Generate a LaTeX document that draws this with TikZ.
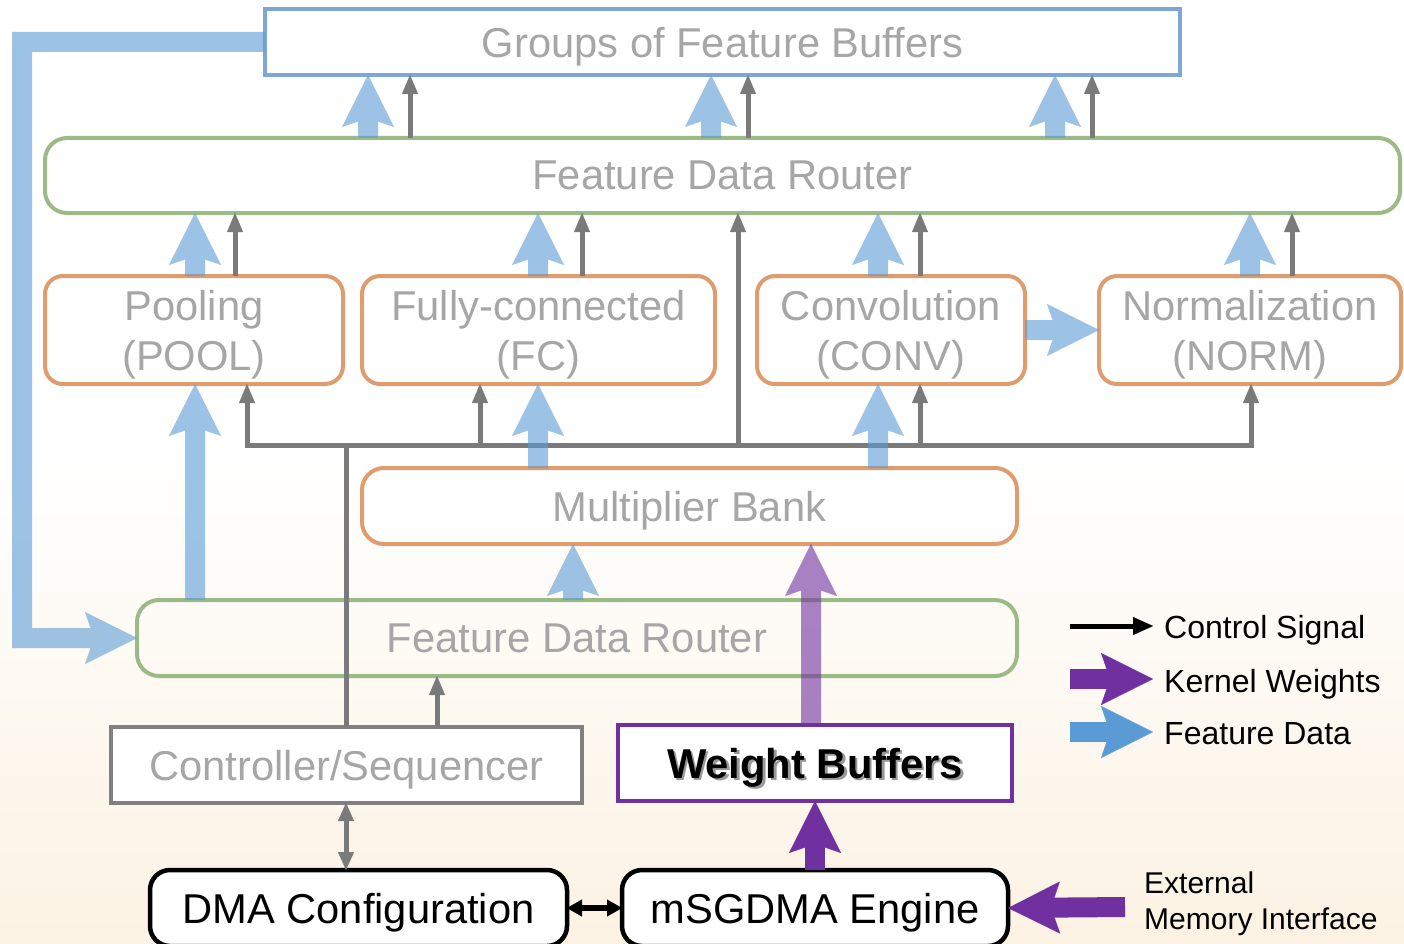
\documentclass[tikz,border=0pt]{standalone}
\usepackage{fontspec}
\setmainfont{Liberation Sans}
\usetikzlibrary{arrows.meta}

\definecolor{featblue}{HTML}{5B9BD5}
\definecolor{kernpurple}{HTML}{7030A0}
\definecolor{ctrlgray}{HTML}{7A7A7A}
\definecolor{routergreen}{HTML}{9BBA86}
\definecolor{unitorange}{HTML}{DF9C6E}
\definecolor{bufblue}{HTML}{7DA8D6}
\definecolor{labelgray}{HTML}{A6A6A6}
\definecolor{boxgray}{HTML}{808080}
\definecolor{peach}{RGB}{252,242,227}

\tikzset{
  big/.style={font=\fontsize{41.7}{50}\selectfont},
  basebox/.style={inner sep=0pt, outer sep=0pt, line width=4pt, big, align=center, text depth=0pt},
  bufbox/.style={basebox, draw=bufblue, fill=white, text=labelgray},
  router/.style={basebox, draw=routergreen, rounded corners=22pt, text=labelgray},
  unit/.style={basebox, draw=unitorange, fill=white, rounded corners=18pt, text=labelgray},
  ctrlbox/.style={basebox, draw=boxgray, fill=white, text=labelgray},
  wbox/.style={basebox, draw=kernpurple, fill=white, text=black, font=\fontsize{41.7}{50}\selectfont\bfseries},
  dmabox/.style={basebox, draw=black, line width=4.5pt, fill=white, rounded corners=20pt, text=black},
  fathead/.style={-{Stealth[length=52pt, width=52pt, inset=9pt, line width=0.1pt]}},
  feat/.style={draw=featblue, line width=20pt, fathead},
  kern/.style={draw=kernpurple, line width=20pt, fathead},
  ctrlline/.style={draw=ctrlgray, line width=5pt},
  ctrl/.style={ctrlline, -{Triangle[length=19pt, width=16pt, line width=0.1pt]}},
  ctrlboth/.style={ctrlline, {Triangle[length=18pt, width=16pt, line width=0.1pt]}-{Triangle[length=18pt, width=16pt, line width=0.1pt]}},
  blackboth/.style={draw=black, line width=5.5pt, {Triangle[length=15pt, width=17pt, line width=0.1pt]}-{Triangle[length=15pt, width=17pt, line width=0.1pt]}},
  legtext/.style={anchor=base west, inner sep=0pt, font=\fontsize{32}{36}\selectfont, text=black},
  exttext/.style={anchor=base west, inner sep=0pt, font=\fontsize{30}{36}\selectfont, text=black},
}

\begin{document}
\begin{tikzpicture}[x=1pt, y=-1pt]
  % canvas with a warm tint towards the bottom
  \useasboundingbox (0,0) rectangle (1404,944);
  \fill[white] (0,0) rectangle (1404,460);
  \shade[top color=white, bottom color=peach] (0,460) rectangle (1404,944);

  % blocks
  \node[bufbox, minimum width=915pt, minimum height=66pt] (groups) at (722.5,42) {Groups of Feature Buffers};
  \node[router, fill=white, minimum width=1355pt, minimum height=75pt] (routerT) at (722.5,175.5) {Feature Data Router};
  \node[unit, minimum width=298pt, minimum height=108pt] (pool) at (194,330) {Pooling\\(POOL)};
  \node[unit, minimum width=353pt, minimum height=108pt] (fc) at (538.5,330) {Fully-connected\\(FC)};
  \node[unit, minimum width=268pt, minimum height=108pt] (conv) at (891,330) {Convolution\\(CONV)};
  \node[unit, minimum width=302pt, minimum height=108pt] (norm) at (1250,330) {Normalization\\(NORM)};
  \node[unit, rounded corners=22pt, minimum width=655pt, minimum height=76pt] (mult) at (689.5,506) {Multiplier Bank};
  \node[router, minimum width=880pt, minimum height=76pt] (routerB) at (577,638) {Feature Data Router};
  \node[ctrlbox, minimum width=471pt, minimum height=76pt] (ctrl) at (346.5,765) {Controller/Sequencer};
  \node[wbox, minimum width=394pt, minimum height=76pt] (wbuf) at (815,763)
    {\makebox[0pt][l]{\hspace{2.5pt}\raisebox{-2.5pt}{\textcolor{black!40}{Weight Buffers}}}Weight Buffers};
  \node[dmabox, minimum width=417pt, minimum height=76pt] (dma) at (358.5,908) {DMA Configuration};
  \node[dmabox, minimum width=386pt, minimum height=76pt] (msg) at (815,908) {mSGDMA Engine};

  % control bus
  \coordinate (busL) at (247,445);
  \coordinate (busR) at (1251,445);
  \coordinate (ext) at (1125,907);

  % control signals
  \draw[ctrlline, line cap=rect] (busL) -- (busR);
  \draw[ctrl] (410,0 |- routerT.north) -- (410,0 |- groups.south);
  \draw[ctrl] (748,0 |- routerT.north) -- (748,0 |- groups.south);
  \draw[ctrl] (1092,0 |- routerT.north) -- (1092,0 |- groups.south);
  \draw[ctrl] (235,0 |- pool.north) -- (235,0 |- routerT.south);
  \draw[ctrl] (582,0 |- fc.north) -- (582,0 |- routerT.south);
  \draw[ctrl] (920,0 |- conv.north) -- (920,0 |- routerT.south);
  \draw[ctrl] (1292,0 |- norm.north) -- (1292,0 |- routerT.south);
  \draw[ctrl] (738,0 |- busL) -- (738,0 |- routerT.south);
  \draw[ctrl] (busL) -- (busL |- pool.south);
  \draw[ctrl] (480,0 |- busL) -- (480,0 |- fc.south);
  \draw[ctrl] (920,0 |- busL) -- (920,0 |- conv.south);
  \draw[ctrl] (busR) -- (busR |- norm.south);
  \draw[ctrlline] (346,0 |- ctrl.north) -- (346,0 |- busL);
  \draw[ctrl] (437,0 |- ctrl.north) -- (437,0 |- routerB.south);
  \draw[ctrlboth] (346,0 |- ctrl.south) -- (346,0 |- dma.north);
  \draw[blackboth] (dma.east) -- (msg.west);

  % feature data paths
  \begin{scope}[transparency group, opacity=0.6]
    \draw[feat] (368,0 |- routerT.north) -- (368,0 |- groups.south);
    \draw[feat] (711,0 |- routerT.north) -- (711,0 |- groups.south);
    \draw[feat] (1055,0 |- routerT.north) -- (1055,0 |- groups.south);
    \draw[feat] (195,0 |- pool.north) -- (195,0 |- routerT.south);
    \draw[feat] (538,0 |- fc.north) -- (538,0 |- routerT.south);
    \draw[feat] (878,0 |- conv.north) -- (878,0 |- routerT.south);
    \draw[feat] (1250,0 |- norm.north) -- (1250,0 |- routerT.south);
    \draw[feat] (195,0 |- routerB.north) -- (195,0 |- pool.south);
    \draw[feat] (538,0 |- mult.north) -- (538,0 |- fc.south);
    \draw[feat] (878,0 |- mult.north) -- (878,0 |- conv.south);
    \draw[feat] (conv.east) -- (norm.west);
    \draw[feat] (573,0 |- routerB.north) -- (573,0 |- mult.south);
    \draw[feat] (groups.west) -- (groups.west -| 22,0) -- (22,0 |- routerB.west) -- (routerB.west);
  \end{scope}

  % kernel weights
  \begin{scope}[transparency group, opacity=0.6]
    \draw[kern] (811,0 |- wbuf.north) -- (811,0 |- mult.south);
  \end{scope}
  \draw[kern] (msg.north) -- (wbuf.south);
  \draw[kern] (ext) -- (msg.east);

  % legend
  \coordinate (lgC0) at (1070,626); \coordinate (lgC1) at (1153,626);
  \coordinate (lgK0) at (1070,679); \coordinate (lgK1) at (1153,679);
  \coordinate (lgF0) at (1070,732); \coordinate (lgF1) at (1153,732);
  \draw[draw=black, line width=5pt, -{Triangle[length=20pt, width=18pt, line width=0.1pt]}] (lgC0) -- (lgC1);
  \draw[kern] (lgK0) -- (lgK1);
  \draw[feat] (lgF0) -- (lgF1);
  \node[legtext] (lgCt) at (1164,638) {Control Signal};
  \node[legtext] (lgKt) at (1164,692) {Kernel Weights};
  \node[legtext] (lgFt) at (1164,744) {Feature Data};
  \node[exttext] (extA) at (1144,893) {External};
  \node[exttext] (extB) at (1144,929) {Memory Interface};
\end{tikzpicture}
\end{document}
